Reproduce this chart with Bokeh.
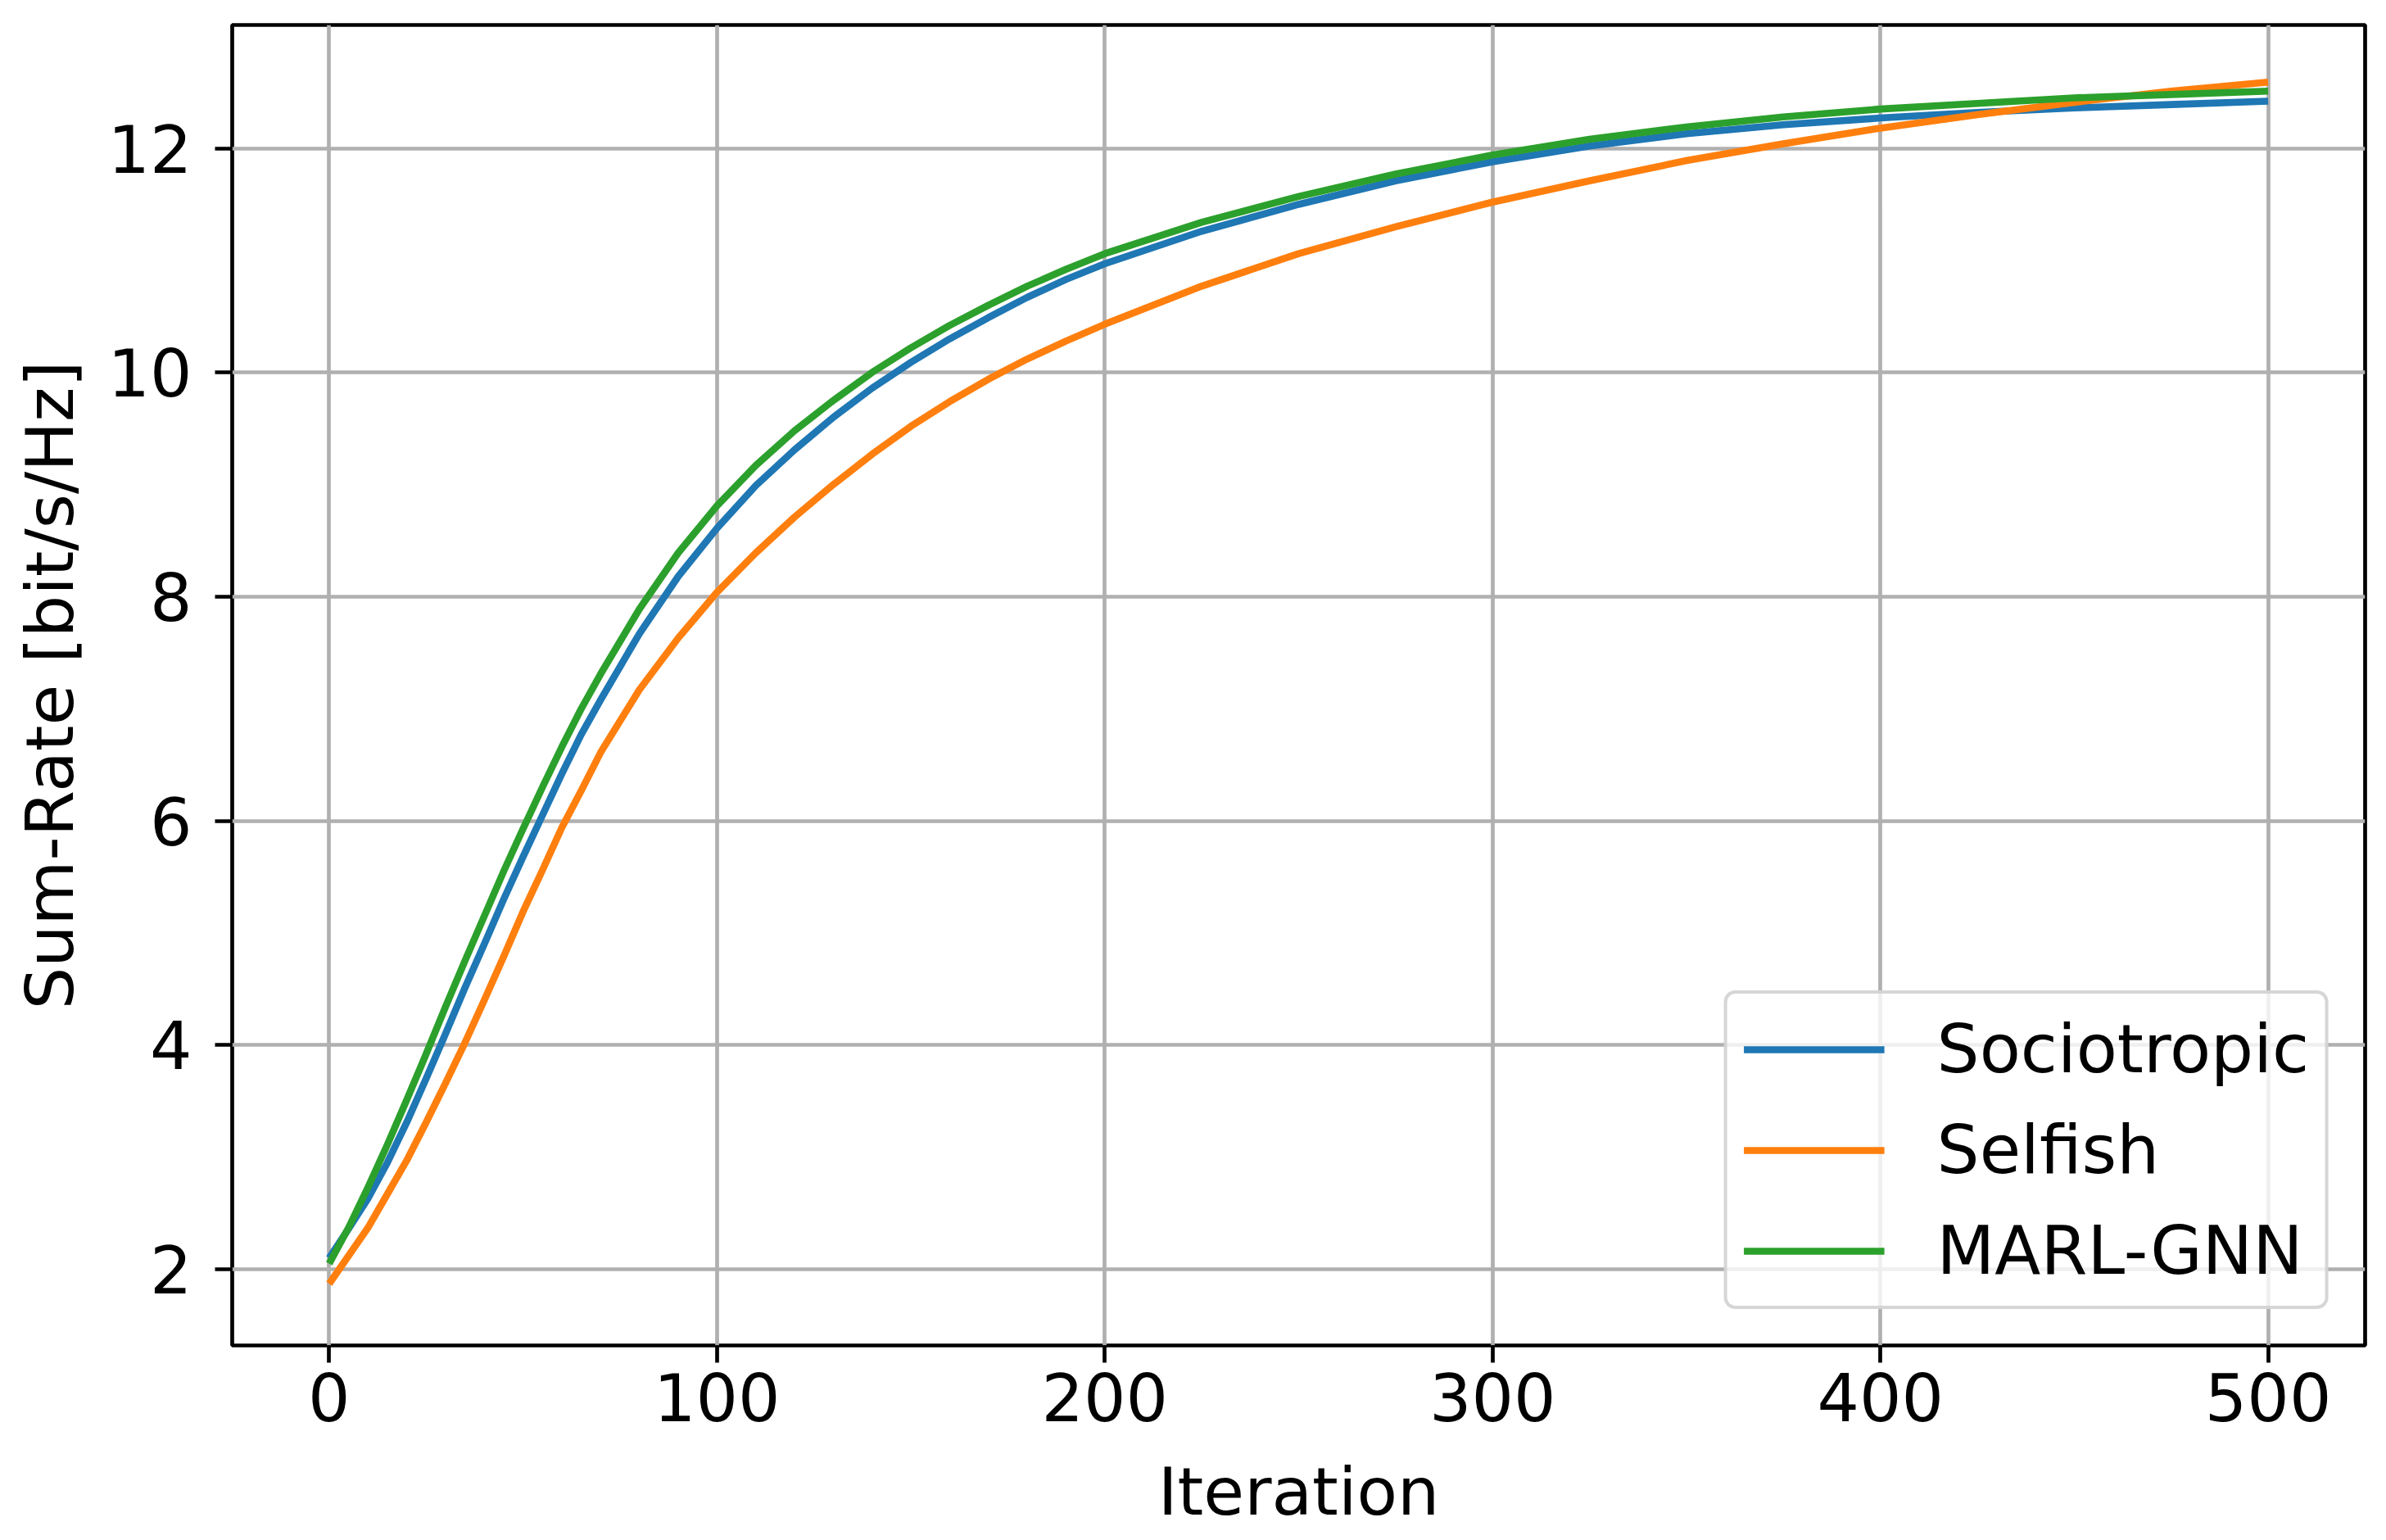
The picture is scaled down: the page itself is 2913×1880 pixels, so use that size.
from bokeh.plotting import figure
from bokeh.models import Range1d, FixedTicker, Legend, LegendItem
from bokeh.embed import file_html
from bokeh.resources import INLINE

# ---- data ----
iterations = [0, 5, 10, 15, 20, 25, 30, 35, 40, 45, 50, 55, 60, 65, 70,
              80, 90, 100, 110, 120, 130, 140, 150, 160, 170, 180, 190, 200,
              225, 250, 275, 300, 325, 350, 375, 400, 425, 450, 475, 500]

sociotropic = [2.10, 2.36, 2.63, 2.95, 3.31, 3.70, 4.10, 4.51, 4.90, 5.30, 5.68,
               6.05, 6.42, 6.77, 7.08, 7.67, 8.18, 8.61, 8.99, 9.31, 9.60, 9.86,
               10.09, 10.30, 10.49, 10.67, 10.83, 10.97, 11.26, 11.50, 11.71,
               11.88, 12.02, 12.13, 12.21, 12.27, 12.32, 12.36, 12.39, 12.42]

selfish = [1.87, 2.12, 2.37, 2.67, 2.97, 3.31, 3.66, 4.02, 4.40, 4.79, 5.19,
           5.56, 5.94, 6.27, 6.61, 7.17, 7.63, 8.04, 8.39, 8.71, 9.00, 9.27,
           9.52, 9.74, 9.94, 10.12, 10.28, 10.43, 10.77, 11.06, 11.30, 11.52,
           11.71, 11.89, 12.04, 12.18, 12.30, 12.41, 12.51, 12.59]

marl_gnn = [2.05, 2.37, 2.73, 3.11, 3.51, 3.92, 4.34, 4.75, 5.15, 5.55, 5.93,
            6.30, 6.66, 7.00, 7.31, 7.89, 8.39, 8.81, 9.17, 9.48, 9.75, 10.00,
            10.22, 10.42, 10.60, 10.77, 10.92, 11.06, 11.34, 11.57, 11.77,
            11.94, 12.08, 12.19, 12.28, 12.35, 12.40, 12.45, 12.48, 12.51]

series_names = ["Sociotropic", "Selfish", "MARL-GNN"]
series_colors = ["#1f77b4", "#ff7f0e", "#2ca02c"]

x_ticks = [0, 100, 200, 300, 400, 500]
y_ticks = [2, 4, 6, 8, 10, 12]

FONT = "DejaVu Sans"
FS = "81px"
LW = 4.7

p = figure(width=2900, height=1870, output_backend="svg", toolbar_location=None,
           x_range=Range1d(-25, 525), y_range=Range1d(1.32, 13.10),
           min_border_left=283, min_border_right=13, min_border_top=30,
           min_border_bottom=225)
p.background_fill_color = "white"
p.border_fill_color = "white"
p.outline_line_color = "black"
p.outline_line_width = LW

renderers = []
for ys, name, col in zip([sociotropic, selfish, marl_gnn], series_names, series_colors):
    r = p.line(iterations, ys, line_color=col, line_width=8.6, line_join="round")
    renderers.append(r)

for ax in (p.xaxis[0], p.yaxis[0]):
    ax.axis_line_color = None
    ax.major_tick_in = 0
    ax.major_tick_out = 21
    ax.major_tick_line_width = LW
    ax.major_tick_line_color = "black"
    ax.minor_tick_line_color = None
    ax.major_label_text_font = FONT
    ax.major_label_text_font_size = FS
    ax.major_label_text_color = "black"
    ax.axis_label_text_font = FONT
    ax.axis_label_text_font_size = FS
    ax.axis_label_text_font_style = "normal"
    ax.axis_label_text_color = "black"

p.xaxis[0].ticker = FixedTicker(ticks=x_ticks)
p.yaxis[0].ticker = FixedTicker(ticks=y_ticks)
p.xaxis[0].axis_label = "Iteration"
p.yaxis[0].axis_label = "Sum-Rate [bit/s/Hz]"
p.xaxis[0].major_label_standoff = 12
p.yaxis[0].major_label_standoff = 28
p.xaxis[0].axis_label_standoff = 36
p.yaxis[0].axis_label_standoff = 20

p.xgrid[0].ticker = FixedTicker(ticks=x_ticks)
p.ygrid[0].ticker = FixedTicker(ticks=y_ticks)
for g in (p.xgrid[0], p.ygrid[0]):
    g.grid_line_color = "#b0b0b0"
    g.grid_line_width = LW

legend = Legend(items=[LegendItem(label=n, renderers=[r]) for n, r in zip(series_names, renderers)],
                location="bottom_right")
legend.margin = 44
legend.padding = 20
legend.spacing = 28
legend.glyph_width = 172
legend.glyph_height = 92
legend.label_height = 92
legend.label_standoff = 64
legend.label_text_font = FONT
legend.label_text_font_size = "82px"
legend.label_text_color = "black"
legend.background_fill_color = "white"
legend.background_fill_alpha = 0.8
legend.border_line_color = "#cccccc"
legend.border_line_alpha = 0.8
legend.border_line_width = 4.5
if "border_radius" in Legend.properties():
    legend.border_radius = 14
p.add_layout(legend, "center")

open("out.html", "w").write(file_html(p, INLINE))
